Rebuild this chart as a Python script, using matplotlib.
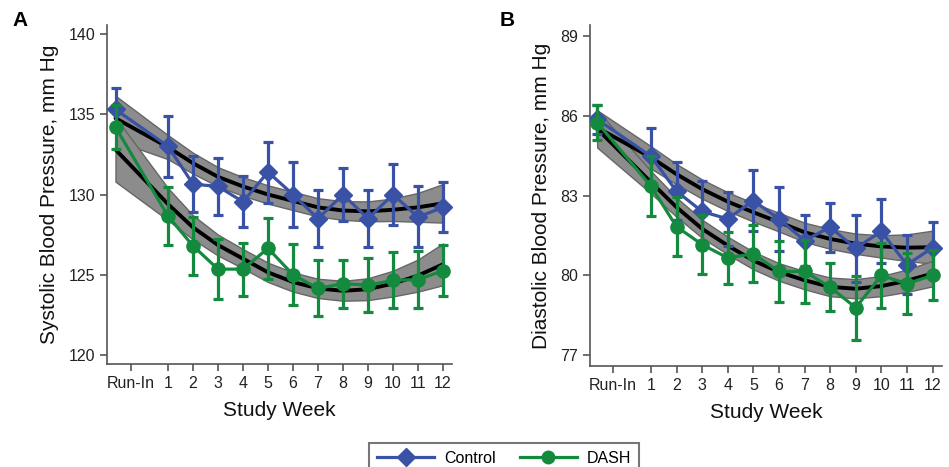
import matplotlib
matplotlib.use("Agg")
import matplotlib.pyplot as plt
from matplotlib.lines import Line2D

plt.rcParams['font.family'] = ['Liberation Sans', 'DejaVu Sans']

# x positions: Run-In data plotted slightly left of its tick
x_data = [-1.1, 1, 2, 3, 4, 5, 6, 7, 8, 9, 10, 11, 12]
tick_pos = [-0.5, 1, 2, 3, 4, 5, 6, 7, 8, 9, 10, 11, 12]
tick_labels = ["Run-In", "1", "2", "3", "4", "5", "6", "7", "8", "9", "10", "11", "12"]

# Panel A: systolic
sbp_control = [135.3, 133.0, 130.65, 130.5, 129.55, 131.4, 130.0, 128.5, 130.0, 128.5, 130.0, 128.6, 129.2]
sbp_control_err = [1.35, 1.9, 1.75, 1.75, 1.6, 1.9, 2.0, 1.75, 1.65, 1.8, 1.9, 1.9, 1.55]
sbp_dash = [134.2, 128.65, 126.8, 125.35, 125.35, 126.65, 125.0, 124.15, 124.45, 124.35, 124.65, 124.7, 125.25]
sbp_dash_err = [1.35, 1.8, 1.8, 1.85, 1.65, 1.9, 1.9, 1.75, 1.5, 1.7, 1.75, 1.75, 1.6]
sbp_control_fit = [134.75, 132.95, 131.95, 131.1, 130.5, 130.0, 129.6, 129.2, 129.0, 128.95, 129.05, 129.2, 129.45]
sbp_control_band = [1.4, 0.75, 0.65, 0.6, 0.58, 0.57, 0.57, 0.57, 0.58, 0.62, 0.7, 0.9, 1.2]
sbp_dash_fit = [132.8, 129.4, 127.95, 126.85, 126.0, 125.15, 124.55, 124.15, 124.0, 124.1, 124.45, 124.95, 125.65]
sbp_dash_band = [2.0, 1.0, 0.75, 0.65, 0.6, 0.6, 0.6, 0.6, 0.62, 0.68, 0.8, 1.0, 1.3]

# Panel B: diastolic
dbp_control = [85.86, 84.47, 83.16, 82.4, 82.12, 82.81, 82.12, 81.31, 81.81, 81.02, 81.65, 80.4, 81.04]
dbp_control_err = [0.55, 1.05, 1.08, 1.13, 1.0, 1.15, 1.2, 0.95, 0.92, 1.25, 1.2, 1.1, 0.98]
dbp_dash = [85.74, 83.35, 81.83, 81.16, 80.66, 80.81, 80.15, 80.15, 79.56, 78.79, 80.0, 79.69, 80.0]
dbp_dash_err = [0.65, 1.12, 1.1, 1.12, 0.97, 1.07, 1.15, 1.17, 0.91, 1.2, 1.21, 1.15, 0.94]
dbp_control_fit = [85.55, 84.43, 83.8, 83.24, 82.77, 82.37, 82.0, 81.62, 81.37, 81.19, 81.09, 81.04, 81.06]
dbp_control_band = [0.65, 0.42, 0.38, 0.36, 0.35, 0.35, 0.35, 0.36, 0.37, 0.38, 0.42, 0.5, 0.62]
dbp_dash_fit = [85.5, 83.5, 82.56, 81.75, 81.12, 80.56, 80.13, 79.82, 79.57, 79.5, 79.6, 79.8, 80.07]
dbp_dash_band = [0.7, 0.42, 0.36, 0.34, 0.33, 0.33, 0.33, 0.34, 0.35, 0.36, 0.38, 0.42, 0.48]

BLUE = "#3a52a5"
GREEN = "#148a3e"
BAND = "#8c8c8c"
BAND_EDGE = "#666666"
AXC = "#555555"

W, H = 949, 467
fig = plt.figure(figsize=(W / 100, H / 100), dpi=100)


def frac(l, r, t, b):
    return [l / W, 1 - b / H, (r - l) / W, (b - t) / H]


axA = fig.add_axes(frac(107, 452, 25, 364))
axB = fig.add_axes(frac(590, 942, 25, 366))


def draw(ax, ctrl, ctrl_err, dash, dash_err, cfit, cband, dfit, dband, ylim, yticks, ylabel, xlim):
    for fit, band in ((cfit, cband), (dfit, dband)):
        lo = [f - b for f, b in zip(fit, band)]
        hi = [f + b for f, b in zip(fit, band)]
        ax.fill_between(x_data, lo, hi, facecolor=BAND, edgecolor=BAND_EDGE, linewidth=1.0, zorder=1)
        ax.plot(x_data, fit, color="black", lw=2.8, zorder=2, solid_capstyle="round")
    ax.errorbar(x_data, ctrl, yerr=ctrl_err, color=BLUE, lw=2.3, marker="D", ms=9,
                elinewidth=2.3, capsize=3.5, capthick=2.3, zorder=3)
    ax.errorbar(x_data, dash, yerr=dash_err, color=GREEN, lw=2.3, marker="o", ms=9.5,
                elinewidth=2.3, capsize=3.5, capthick=2.3, zorder=4)
    ax.set_xlim(*xlim)
    ax.set_ylim(*ylim)
    ax.set_yticks(yticks)
    ax.set_xticks(tick_pos)
    ax.set_xticklabels(tick_labels)
    for s in ("top", "right"):
        ax.spines[s].set_visible(False)
    for s in ("left", "bottom"):
        ax.spines[s].set_color(AXC)
        ax.spines[s].set_linewidth(1.2)
    ax.tick_params(axis="both", colors=AXC, labelcolor="#222222", labelsize=11.5,
                   length=5, width=1.2, direction="out")
    ax.set_ylabel(ylabel, fontsize=15, color="#111111", labelpad=7)
    ax.set_xlabel("Study Week", fontsize=15, color="#111111", labelpad=7)


draw(axA, sbp_control, sbp_control_err, sbp_dash, sbp_dash_err,
     sbp_control_fit, sbp_control_band, sbp_dash_fit, sbp_dash_band,
     (119.44, 140.56), [120, 125, 130, 135, 140], "Systolic Blood Pressure, mm Hg", (-1.44, 12.36))
draw(axB, dbp_control, dbp_control_err, dbp_dash, dbp_dash_err,
     dbp_control_fit, dbp_control_band, dbp_dash_fit, dbp_dash_band,
     (76.6, 89.4), [77, 80, 83, 86, 89], "Diastolic Blood Pressure, mm Hg", (-1.38, 12.37))

fig.text(12 / W, 1 - 20 / H, "A", fontsize=15, fontweight="bold", va="center", ha="left")
fig.text(500 / W, 1 - 20 / H, "B", fontsize=15, fontweight="bold", va="center", ha="left")

handles = [Line2D([], [], color=BLUE, lw=2.3, marker="D", ms=9),
           Line2D([], [], color=GREEN, lw=2.3, marker="o", ms=9)]
leg = fig.legend(handles, ["Control", "DASH"], loc="upper left",
                 bbox_to_anchor=(369 / W, 1 - 443 / H), ncol=2, fontsize=11.5,
                 handlelength=3.6, columnspacing=1.5, handletextpad=0.6,
                 frameon=True, fancybox=False, edgecolor="#555555", borderpad=0.5,
                 borderaxespad=0)
leg.get_frame().set_linewidth(1.5)

fig.savefig("out.png", dpi=100)
